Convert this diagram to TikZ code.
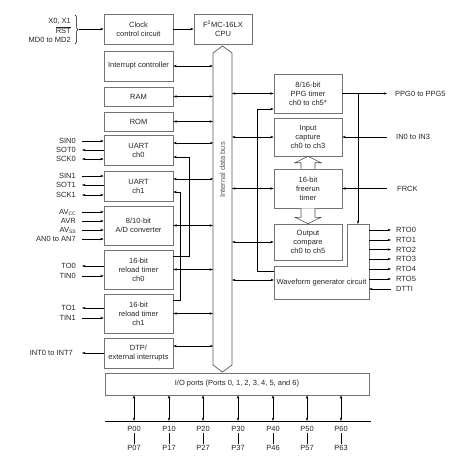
\documentclass[tikz,border=0pt]{standalone}
\usepackage{fontspec}
\setmainfont{Liberation Sans}
\usetikzlibrary{arrows.meta,decorations.pathreplacing}
\newcommand\dfont{\fontsize{7.5}{9}\selectfont}
\tikzset{
  box/.style={draw=black!55, line width=0.6pt, fill=white, minimum width=69pt, inner sep=1pt, align=center, font=\dfont, text=black!85},
  tip/.tip={Stealth[length=3.4pt,width=2.4pt]},
  arr/.style={-tip, line width=0.55pt},
  darr/.style={tip-tip, line width=0.55pt},
  llbl/.style={anchor=east, inner xsep=6pt, inner ysep=1pt, font=\dfont, text=black!85},
  rlbl/.style={anchor=west, inner xsep=5pt, inner ysep=1pt, font=\dfont, text=black!85},
  plbl/.style={inner sep=1.5pt, font=\dfont, text=black!85},
  hollow/.style={draw=black!70, line width=0.6pt, fill=white},
}
\begin{document}
\begin{tikzpicture}[x=1pt,y=-1pt]
\useasboundingbox (0,0) rectangle (473,466);

% bus
\draw[draw=black!65, line width=0.7pt, fill=white] (213,53) -- (222.5,46) -- (232,53) -- (232,365) -- (222.5,372) -- (213,365) -- cycle;
\node[rotate=90, font=\dfont, text=black!65] (buslbl) at (222.5,170) {Internal data bus};
\coordinate (bl) at (213,0);
\coordinate (br) at (232,0);

% left boxes
\node[box, minimum height=30pt] (clock) at (138.5,29) {Clock\\control circuit};
\node[box, minimum width=58pt, minimum height=30pt] (cpu) at (223,29) {F\textsuperscript{2}MC-16LX\\CPU};
\node[box, minimum height=30pt] (intc) at (138.5,66) {Interrupt controller};
\node[box, minimum height=19pt] (ram) at (138.5,96.5) {RAM};
\node[box, minimum height=19pt] (rom) at (138.5,121.5) {ROM};
\node[box, minimum height=30pt] (uart0) at (138.5,150) {UART\\ch0};
\node[box, minimum height=30pt] (uart1) at (138.5,186) {UART\\ch1};
\node[box, minimum height=39pt] (adc) at (138.5,225.5) {8/10-bit\\A/D converter};
\node[box, minimum height=39pt] (rt0) at (138.5,269.5) {16-bit\\reload timer\\ch0};
\node[box, minimum height=39pt] (rt1) at (138.5,313.5) {16-bit\\reload timer\\ch1};
\node[box, minimum height=30pt] (dtp) at (138.5,353) {DTP/\\external interrupts};
\node[box, minimum width=264pt, minimum height=22pt] (io) at (237,384) {I/O ports (Ports 0, 1, 2, 3, 4, 5, and 6)};

% right boxes
\node[box, minimum width=68pt, minimum height=39pt] (ppg) at (308,93.5) {8/16-bit\\PPG timer\\ch0 to ch5*};
\node[box, minimum width=68pt, minimum height=38pt] (icu) at (308,137) {Input\\capture\\ch0 to ch3};
\node[box, minimum width=68pt, minimum height=39pt] (frt) at (308,188.5) {16-bit\\freerun\\timer};
\node[box, minimum width=68pt, minimum height=36pt] (ocu) at (308,242) {Output\\compare\\ch0 to ch5};

% waveform generator (L-shaped)
\draw[draw=black!55, line width=0.6pt, fill=white] (274,266) -- (347,266) -- (347,224) -- (369,224) -- (369,299) -- (274,299) -- cycle;
\node[font=\dfont, text=black!85, inner sep=0pt] (wfg) at (321.5,283) {Waveform generator circuit};
\coordinate (wfgW) at (274,280);
\coordinate (wfgA) at (274,271);
\coordinate (wfgE) at (369,0);
\coordinate (wfgT) at (358,224);

% hollow arrows
\draw[hollow] ([xshift=-7pt]frt.north) -- ++(0,-6) -- ++(-6,0) -- (icu.south) -- ([xshift=13pt,yshift=6pt]frt.north) -- ++(-6,0) -- ([xshift=7pt]frt.north);
\draw[hollow] ([xshift=-7pt]frt.south) -- ++(0,9) -- ++(-6,0) -- (ocu.north) -- ([xshift=13pt,yshift=-9pt]frt.south) -- ++(-6,0) -- ([xshift=7pt]frt.south);

% top left inputs
\node[anchor=east, inner sep=0pt, font=\dfont, text=black!85] (x01) at (71,21) {X0, X1};
\node[anchor=east, inner sep=0pt, font=\dfont, text=black!85] (rst) at (71,30) {$\overline{\hbox{RST}}$};
\node[anchor=east, inner sep=0pt, font=\dfont, text=black!85] (md) at (71,39.5) {MD0 to MD2};
\draw[decorate, decoration={brace, amplitude=3pt}, line width=0.5pt] (75,15) -- (75,44);
\coordinate (brt) at (79,29);
\draw[arr] (brt) -- (clock.west);
\draw[arr] (clock) -- (cpu);

% left side bus connections
\draw[darr] (intc.east) -- (intc.east -| bl);
\draw[darr] (ram.east) -- (ram.east -| bl);
\draw[darr] (rom.east) -- (rom.east -| bl);
\draw[darr] ([yshift=7pt]uart0.east) -- ++(40,0);
\draw[darr] ([yshift=7pt]uart1.east) -- ++(40,0);
\draw[darr] (adc.east) -- (adc.east -| bl);
\draw[darr] (rt0.east) -- (rt0.east -| bl);
\draw[darr] (rt1.east) -- (rt1.east -| bl);
\draw[darr] ([yshift=7pt]dtp.east) -- ++(40,0);

% timer to uart
\draw[arr] ([yshift=13.5pt]rt0.east) -- ++(16,0) |- ([yshift=-7pt]uart0.east);
\draw[arr] ([yshift=13.5pt]rt1.east) -- ++(7,0) |- ([yshift=-6pt]uart1.east);

% left pins
\node[llbl] (sin0) at (82,141) {SIN0};
\node[llbl] (sot0) at (82,150) {SOT0};
\node[llbl] (sck0) at (82,159) {SCK0};
\draw[arr] (sin0.east) -- (sin0.east -| uart0.west);
\draw[arr] (sot0.east -| uart0.west) -- (sot0.east);
\draw[darr] (sck0.east) -- (sck0.east -| uart0.west);
\node[llbl] (sin1) at (82,176) {SIN1};
\node[llbl] (sot1) at (82,185) {SOT1};
\node[llbl] (sck1) at (82,195) {SCK1};
\draw[arr] (sin1.east) -- (sin1.east -| uart1.west);
\draw[arr] (sot1.east -| uart1.west) -- (sot1.east);
\draw[darr] (sck1.east) -- (sck1.east -| uart1.west);
\node[llbl] (avcc) at (82,212) {AV\raisebox{-1pt}{\fontsize{5}{5}\selectfont CC}};
\node[llbl] (avr) at (82,221) {AVR};
\node[llbl] (avss) at (82,230) {AV\raisebox{-1pt}{\fontsize{5}{5}\selectfont SS}};
\node[llbl] (an) at (82,239) {AN0 to AN7};
\draw[arr] (avcc.east) -- (avcc.east -| adc.west);
\draw[arr] (avr.east) -- (avr.east -| adc.west);
\draw[arr] (avss.east) -- (avss.east -| adc.west);
\draw[arr] (an.east) -- (an.east -| adc.west);
\node[llbl] (to0) at (82,266) {TO0};
\node[llbl] (tin0) at (82,276) {TIN0};
\draw[arr] (to0.east -| rt0.west) -- (to0.east);
\draw[arr] (tin0.east) -- (tin0.east -| rt0.west);
\node[llbl] (to1) at (82,308) {TO1};
\node[llbl] (tin1) at (82,318) {TIN1};
\draw[arr] (to1.east -| rt1.west) -- (to1.east);
\draw[arr] (tin1.east) -- (tin1.east -| rt1.west);
\node[llbl, inner xsep=9pt] (int) at (82,353) {INT0 to INT7};
\draw[arr] (dtp.west) -- (int.east);

% right side bus connections
\draw[darr] (ppg.west -| br) -- (ppg.west);
\draw[darr] (icu.west -| br) -- (icu.west);
\draw[darr] (frt.west -| br) -- (frt.west);
\draw[darr] (ocu.west -| br) -- (ocu.west);
\draw[darr] (wfgW -| br) -- (wfgW);

% waveform to ppg
\draw[arr] (wfgA) -- ++(-17,0) |- ([yshift=-15.5pt]ppg.west);

% right pins
\node[rlbl, inner xsep=8pt] (ppgo) at (387,93.5) {PPG0 to PPG5};
\draw[arr] (ppg.east) -- (ppgo.west);
\coordinate (ppgj) at (358,93.5);
\draw[arr] (ppgj) -- (wfgT);
\node[rlbl, inner xsep=9pt] (inp) at (387,137) {IN0 to IN3};
\draw[arr] (inp.west) -- (icu.east);
\node[rlbl, inner xsep=10pt] (frck) at (387,188.5) {FRCK};
\draw[arr] (frck.west) -- (frt.east);

\foreach \n/\y in {RTO0/230, RTO1/240, RTO2/249.5, RTO3/259, RTO4/269, RTO5/279} {
  \node[rlbl] (\n) at (391,\y) {\n};
  \draw[arr] (\n.west -| wfgE) -- (\n.west);
}
\node[rlbl] (dtti) at (391,289) {DTTI};
\draw[arr] (dtti.west) -- (dtti.west -| wfgE);

% ports
\coordinate (pl) at (105,421);
\coordinate (pr) at (371,421);
\draw[line width=0.6pt] (pl) -- (pr);
\foreach \x/\a/\b in {134/P00/P07, 169/P10/P17, 203/P20/P27, 238/P30/P37, 273/P40/P46, 307/P50/P57, 341/P60/P63} {
  \node[plbl] (\a) at (\x,429) {\a};
  \node[plbl] (\b) at (\x,448) {\b};
  \draw[line width=0.5pt] (\a.south) -- (\b.north);
  \draw[darr] (io.south -| \a) -- (pl -| \a);
}
\end{tikzpicture}
\end{document}
